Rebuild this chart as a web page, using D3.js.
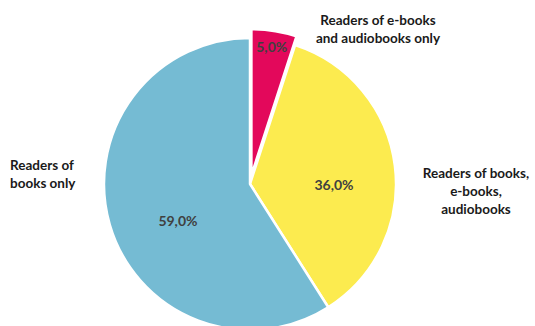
<!DOCTYPE html>
<html>
<head>
<meta charset="utf-8">
<script src="https://cdn.jsdelivr.net/npm/d3@7"></script>
<style>
  html, body { margin: 0; padding: 0; background: #fff; }
  svg text { font-family: Lato, "Open Sans", sans-serif; font-weight: 700; }
</style>
</head>
<body>
<svg id="chart" width="535" height="326"></svg>
<script>
// Reader groups and their shares (%)
const groups = ["Readers of e-books and audiobooks only", "Readers of books, e-books, audiobooks", "Readers of books only"];
const shares = [5.0, 36.0, 59.0];
const colors = ["#E3085B", "#FCEB4F", "#75BBD3"];
// Category captions, one line per entry
const captions = [
  ["Readers of e-books", "and audiobooks only"],
  ["Readers of books,", "e-books,", "audiobooks"],
  ["Readers of", "books only"]
];
// Which slices are pulled out of the pie
const exploded = [true, false, false];

const svg = d3.select("#chart");
const cx = 250, cy = 184, R = 146, pull = 9;

const pie = d3.pie().sort(null).value(d => d)(shares);
const arc = d3.arc().innerRadius(0).outerRadius(R);

const fmt = v => d3.format(".1f")(v).replace(".", ",") + "%";

const g = svg.append("g").attr("transform", `translate(${cx},${cy})`);

const slices = g.selectAll("g.slice").data(pie).join("g")
  .attr("class", "slice")
  .attr("transform", (d, i) => {
    if (!exploded[i]) return null;
    const a = (d.startAngle + d.endAngle) / 2;
    return `translate(${pull * Math.sin(a)},${-pull * Math.cos(a)})`;
  });

slices.append("path")
  .attr("d", arc)
  .attr("fill", (d, i) => colors[i])
  .attr("stroke", "#fff")
  .attr("stroke-width", 2.5)
  .attr("stroke-linejoin", "round");

// Value labels: distance from the centre (fraction of R) and a small
// angular nudge (degrees) away from each slice's bisector
const labelRadius = [0.89, 0.575, 0.555];
const labelNudge = [0, 8, -11];
slices.append("text")
  .attr("transform", (d, i) => {
    const a = (d.startAngle + d.endAngle) / 2 + labelNudge[i] * Math.PI / 180;
    const r = R * labelRadius[i];
    return `translate(${r * Math.sin(a)},${-r * Math.cos(a)})`;
  })
  .attr("text-anchor", "middle")
  .attr("dy", "0.36em")
  .attr("fill", "#404040")
  .attr("font-size", 14)
  .text((d, i) => fmt(shares[i]));

// Category captions outside the pie
const captionPos = [
  { x: 378, y: 25, anchor: "middle" },
  { x: 476, y: 178, anchor: "middle" },
  { x: 10, y: 170, anchor: "start" }
];
captions.forEach((lines, i) => {
  const t = svg.append("text")
    .attr("x", captionPos[i].x)
    .attr("y", captionPos[i].y)
    .attr("text-anchor", captionPos[i].anchor)
    .attr("fill", "#1a1a1a")
    .attr("font-size", 13.5);
  lines.forEach((line, j) => {
    t.append("tspan")
      .attr("x", captionPos[i].x)
      .attr("dy", j === 0 ? 0 : 18)
      .text(line);
  });
});
</script>
</body>
</html>
